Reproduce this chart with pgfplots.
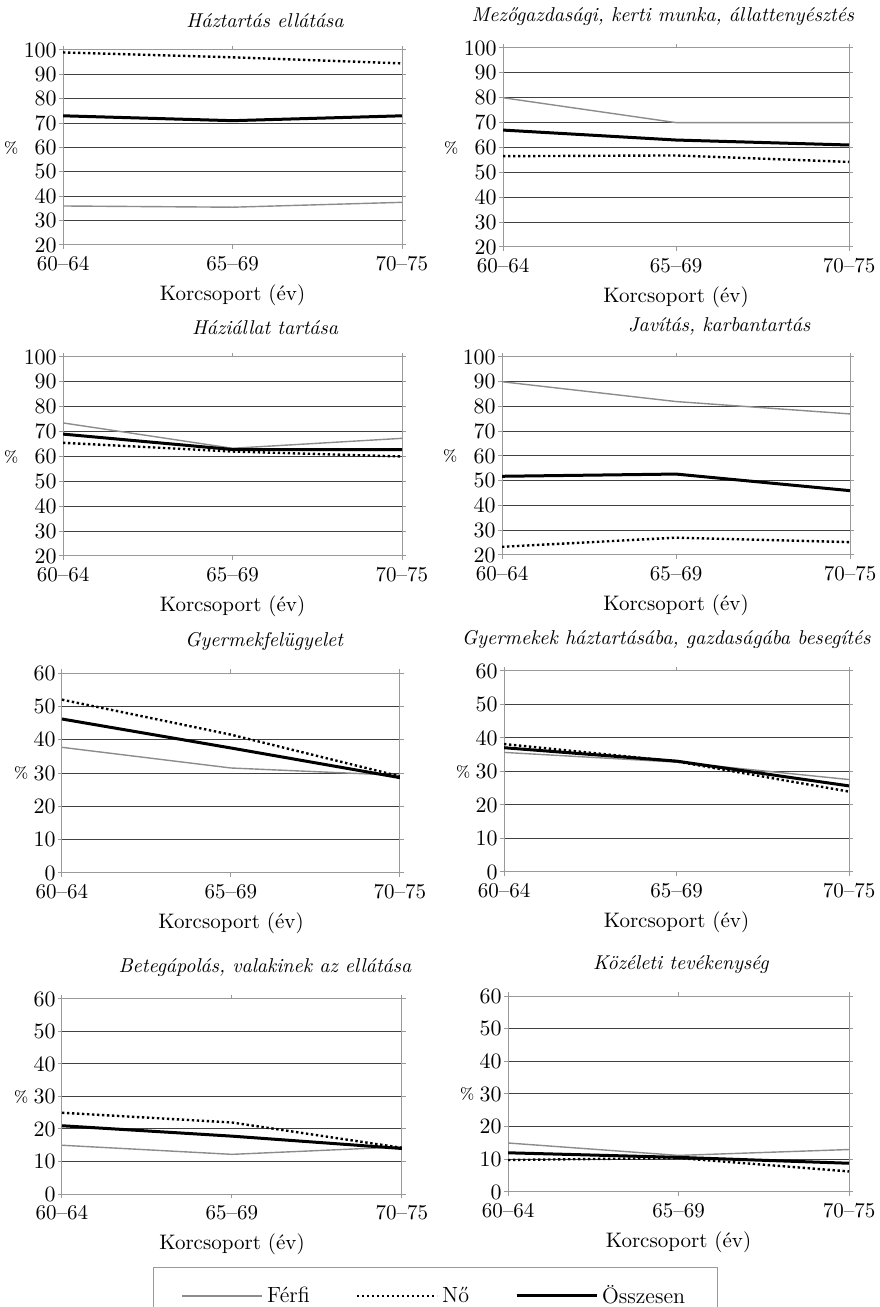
\documentclass[border=0pt]{standalone}
\usepackage{pgfplots}
\pgfplotsset{compat=1.18}
\definecolor{ferfi}{gray}{0.55}
\definecolor{gridc}{gray}{0.25}
\definecolor{axc}{gray}{0.6}
\pgfplotsset{
  panel/.style={
    scale only axis,
    anchor=south west,
    xmin=0, xmax=2,
    xtick={0,1,2}, xticklabels={60--64,65--69,70--75},
    ymajorgrids,
    major grid style={gridc, line width=0.5pt},
    axis line style={axc, line width=0.5pt},
    tick style={axc, line width=0.5pt},
    tick align=outside,
    major tick length=2pt,
    x tick label style={font=\fontsize{10.5}{12}\selectfont},
    y tick label style={font=\fontsize{11}{12}\selectfont, inner sep=1pt},
    xlabel={Korcsoport (év)},
    xlabel style={font=\fontsize{10.5}{12}\selectfont},
    ylabel={\%},
    every axis y label/.style={at={(ticklabel cs:0.5)}, anchor=east, inner sep=1.5pt, font=\fontsize{8}{9}\selectfont},
    title style={font=\itshape\fontsize{10}{11}\selectfont, anchor=south, yshift=1.5pt},
    legend style={draw=none},
  },
  hi/.style={panel, ymin=20, ymax=100, ytick={20,30,...,100}},
  lo/.style={panel, ymin=0, ymax=60, ytick={0,10,...,60}},
  fs/.style={ferfi, line width=0.7pt},
  ns/.style={black, line width=1.2pt, dash pattern=on 1.2pt off 1.3pt},
  os/.style={black, line width=1.5pt},
}
\begin{document}
\begin{tikzpicture}
\useasboundingbox (0,0) rectangle (439.5pt,653.5pt);

% P1
\begin{axis}[hi, at={(31.5pt,531pt)}, width=169.5pt, height=97.5pt,
  title={Háztartás ellátása}, title style={at={(0.596,1)}}]
\addplot[fs] coordinates {(0,36) (1,35.5) (2,37.5)};
\addplot[ns] coordinates {(0,99) (1,97) (2,94.5)};
\addplot[os] coordinates {(0,73) (1,71) (2,73)};
\end{axis}

% P2
\begin{axis}[hi, at={(251.5pt,530pt)}, width=173pt, height=99.5pt,
  title={Mezőgazdasági, kerti munka, állattenyésztés}, title style={at={(0.462,1)}}]
\addplot[fs] coordinates {(0,80) (1,70) (2,70)};
\addplot[ns] coordinates {(0,56.5) (1,56.8) (2,54.2)};
\addplot[os] coordinates {(0,67) (1,63) (2,61)};
\end{axis}

% P3
\begin{axis}[hi, at={(31.5pt,375.5pt)}, width=169.5pt, height=99.5pt,
  title={Háziállat tartása}, title style={at={(0.596,1)}}]
\addplot[fs] coordinates {(0,73.5) (1,63.3) (2,67.3)};
\addplot[ns] coordinates {(0,65.5) (1,62) (2,60)};
\addplot[os] coordinates {(0,69) (1,62.8) (2,62.8)};
\end{axis}

% P4
\begin{axis}[hi, at={(251pt,376pt)}, width=174pt, height=99pt,
  title={Javítás, karbantartás}, title style={at={(0.624,1)}}]
\addplot[fs] coordinates {(0,90) (1,82) (2,77)};
\addplot[ns] coordinates {(0,23.3) (1,27) (2,25.2)};
\addplot[os] coordinates {(0,51.8) (1,52.7) (2,46)};
\end{axis}

% P5
\begin{axis}[lo, at={(31pt,217pt)}, width=169pt, height=100pt,
  title={Gyermekfelügyelet}, title style={at={(0.598,1)}}]
\addplot[fs] coordinates {(0,37.7) (1,31.5) (2,29.3)};
\addplot[ns] coordinates {(0,52) (1,41.5) (2,29)};
\addplot[os] coordinates {(0,46.2) (1,37.5) (2,28.6)};
\end{axis}

% P6
\begin{axis}[lo, at={(252pt,217.5pt)}, width=172.5pt, height=100.5pt,
  title={Gyermekek háztartásába, gazdaságába besegítés}, title style={at={(0.47,1)}}]
\addplot[fs] coordinates {(0,35.7) (1,32.8) (2,27.6)};
\addplot[ns] coordinates {(0,38.2) (1,33) (2,24)};
\addplot[os] coordinates {(0,37.1) (1,33.1) (2,25.7)};
\end{axis}

% P7
\begin{axis}[lo, at={(31pt,56.5pt)}, width=170pt, height=97.5pt,
  title={Betegápolás, valakinek az ellátása}, title style={at={(0.597,1)}},
  legend columns=3,
  legend style={at={(0.268,-0.374)}, anchor=north west, draw=axc, line width=0.5pt,
    font=\fontsize{11}{12}\selectfont, inner xsep=14pt, inner ysep=7pt,
    /tikz/every even column/.append style={column sep=21pt}},
  legend image code/.code={\draw[#1] (0pt,0pt) -- (40pt,0pt);},
  legend cell align=left]
\addplot[fs] coordinates {(0,15) (1,12.2) (2,14.5)};
\addplot[ns] coordinates {(0,25) (1,22) (2,14.2)};
\addplot[os] coordinates {(0,21) (1,17.8) (2,14)};
\legend{Férfi,Nő,Összesen}
\end{axis}

% P8
\begin{axis}[lo, at={(254pt,57.5pt)}, width=170.5pt, height=98pt,
  title={Közéleti tevékenység}, title style={at={(0.507,1)}}]
\addplot[fs] coordinates {(0,15) (1,11.2) (2,13)};
\addplot[ns] coordinates {(0,9.8) (1,10.4) (2,6.3)};
\addplot[os] coordinates {(0,12) (1,10.6) (2,8.8)};
\end{axis}
\end{tikzpicture}
\end{document}
